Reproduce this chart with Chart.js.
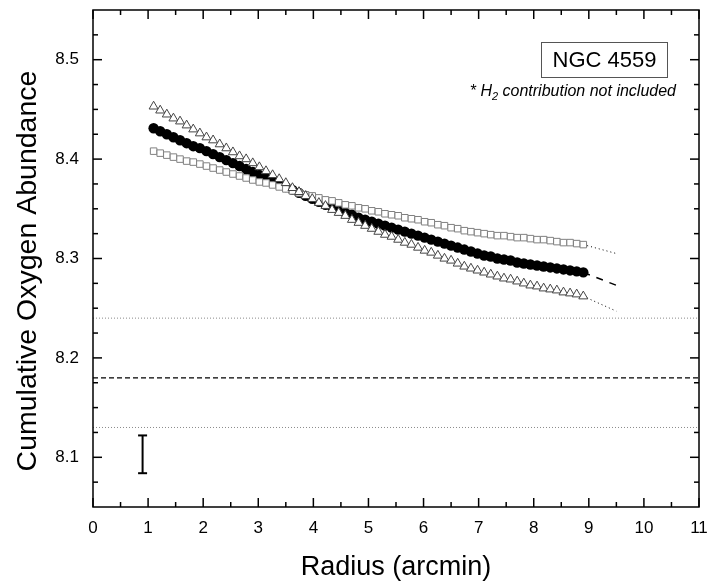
<!DOCTYPE html>
<html>
<head>
<meta charset="utf-8">
<script src="https://cdn.jsdelivr.net/npm/chart.js@4.4.1/dist/chart.umd.min.js"></script>
<style>
  html, body { margin: 0; padding: 0; background: #fff; }
  #chart { display: block; }
</style>
</head>
<body>
<canvas id="chart" width="712" height="588"></canvas>
<script>
// ---------- Data ----------
const radius = [
  1.10, 1.22, 1.34, 1.46, 1.58, 1.70, 1.82, 1.94, 2.06, 2.18,
  2.30, 2.42, 2.54, 2.66, 2.78, 2.90, 3.02, 3.14, 3.26, 3.38,
  3.50, 3.62, 3.74, 3.86, 3.98, 4.10, 4.22, 4.34, 4.46, 4.58,
  4.70, 4.82, 4.94, 5.06, 5.18, 5.30, 5.42, 5.54, 5.66, 5.78,
  5.90, 6.02, 6.14, 6.26, 6.38, 6.50, 6.62, 6.74, 6.86, 6.98,
  7.10, 7.22, 7.34, 7.46, 7.58, 7.70, 7.82, 7.94, 8.06, 8.18,
  8.30, 8.42, 8.54, 8.66, 8.78, 8.90
];
const oxyCircle = [
  8.431, 8.428, 8.425, 8.422, 8.419, 8.416, 8.413, 8.411, 8.408, 8.405,
  8.402, 8.399, 8.396, 8.393, 8.390, 8.387, 8.384, 8.381, 8.378, 8.375,
  8.372, 8.369, 8.366, 8.363, 8.360, 8.357, 8.354, 8.352, 8.349, 8.346,
  8.344, 8.341, 8.339, 8.337, 8.335, 8.333, 8.331, 8.329, 8.327, 8.325,
  8.323, 8.321, 8.319, 8.317, 8.315, 8.313, 8.311, 8.309, 8.307, 8.305,
  8.303, 8.302, 8.300, 8.299, 8.298, 8.296, 8.295, 8.294, 8.293, 8.292,
  8.291, 8.290, 8.289, 8.288, 8.287, 8.286
];
const oxyTriangle = [
  8.453, 8.449, 8.445, 8.441, 8.438, 8.434, 8.430, 8.426, 8.422, 8.419,
  8.415, 8.411, 8.407, 8.403, 8.400, 8.396, 8.392, 8.388, 8.384, 8.380,
  8.376, 8.371, 8.367, 8.363, 8.360, 8.356, 8.353, 8.349, 8.346, 8.343,
  8.339, 8.336, 8.333, 8.330, 8.327, 8.324, 8.322, 8.319, 8.316, 8.314,
  8.311, 8.308, 8.306, 8.303, 8.300, 8.298, 8.295, 8.292, 8.290, 8.288,
  8.286, 8.284, 8.282, 8.280, 8.279, 8.277, 8.275, 8.273, 8.272, 8.270,
  8.269, 8.268, 8.266, 8.265, 8.264, 8.262
];
const oxySquare = [
  8.408, 8.406, 8.404, 8.402, 8.400, 8.398, 8.397, 8.395, 8.393, 8.391,
  8.389, 8.387, 8.385, 8.383, 8.381, 8.379, 8.377, 8.376, 8.374, 8.372,
  8.370, 8.368, 8.366, 8.364, 8.363, 8.361, 8.359, 8.358, 8.356, 8.354,
  8.353, 8.351, 8.350, 8.348, 8.347, 8.345, 8.344, 8.343, 8.341, 8.340,
  8.339, 8.337, 8.336, 8.334, 8.333, 8.331, 8.330, 8.328, 8.327, 8.326,
  8.325, 8.324, 8.323, 8.323, 8.322, 8.321, 8.321, 8.320, 8.319, 8.319,
  8.318, 8.317, 8.316, 8.316, 8.315, 8.314
];

// extrapolations past the last point
const extRadius = [8.90, 9.50];
const extCircle = [8.286, 8.273];
const extTriangle = [8.262, 8.247];
const extSquare = [8.314, 8.305];

// horizontal reference levels
const levelRange = [0, 11];
const levelUpper = 8.24;
const levelMid = 8.18;
const levelLower = 8.13;

// typical error bar
const errRadius = 0.9;
const errLow = 8.084;
const errHigh = 8.122;

// ticks
const xTicks = [0, 1, 2, 3, 4, 5, 6, 7, 8, 9, 10, 11];
const xMinor = [0.5, 1.5, 2.5, 3.5, 4.5, 5.5, 6.5, 7.5, 8.5, 9.5, 10.5];
const yTicks = [8.1, 8.2, 8.3, 8.4, 8.5];
const yMinor = [8.075, 8.125, 8.15, 8.175, 8.225, 8.25, 8.275, 8.325, 8.35, 8.375,
                8.425, 8.45, 8.475, 8.525];

const FONT = "'Liberation Sans', Arial, sans-serif";

const pts = (xs, ys) => xs.map((x, i) => ({ x: x, y: ys[i] }));
const hline = v => levelRange.map(x => ({ x: x, y: v }));

// ---------- Frame, inward ticks, labels ----------
const framePlugin = {
  id: "frame",
  afterDatasetsDraw(chart) {
    const { ctx, chartArea: a, scales: { x, y } } = chart;
    ctx.save();
    ctx.strokeStyle = "#000";
    ctx.lineWidth = 1.5;
    ctx.strokeRect(a.left, a.top, a.right - a.left, a.bottom - a.top);

    const seg = (x1, y1, x2, y2) => {
      ctx.beginPath(); ctx.moveTo(x1, y1); ctx.lineTo(x2, y2); ctx.stroke();
    };
    const xTick = (v, len) => {
      const p = x.getPixelForValue(v);
      seg(p, a.bottom, p, a.bottom - len);
      seg(p, a.top, p, a.top + len);
    };
    const yTick = (v, len) => {
      const p = y.getPixelForValue(v);
      seg(a.left, p, a.left + len, p);
      seg(a.right, p, a.right - len, p);
    };
    xTicks.forEach(v => xTick(v, 9));
    xMinor.forEach(v => xTick(v, 5));
    yTicks.forEach(v => yTick(v, 9));
    yMinor.forEach(v => yTick(v, 5));

    // y axis title (placed by hand, a bit below the plot centre)
    ctx.save();
    ctx.translate(28, 271);
    ctx.rotate(-Math.PI / 2);
    ctx.fillStyle = "#000";
    ctx.font = "28.5px " + FONT;
    ctx.textAlign = "center";
    ctx.textBaseline = "middle";
    ctx.fillText("Cumulative Oxygen Abundance", 0, 0);
    ctx.restore();

    // label box
    ctx.lineWidth = 1;
    ctx.strokeStyle = "#555";
    ctx.strokeRect(541.5, 42.5, 126, 35);
    ctx.fillStyle = "#000";
    ctx.font = "22px " + FONT;
    ctx.textAlign = "center";
    ctx.textBaseline = "middle";
    ctx.fillText("NGC 4559", 604.5, 60.5);

    // note, right aligned with subscript
    const right = 676, base = 96;
    const mainFont = "italic 16px " + FONT;
    const subFont = "italic 11px " + FONT;
    ctx.textBaseline = "alphabetic";
    ctx.textAlign = "left";
    ctx.font = mainFont;
    const tail = " contribution not included";
    const head = "* H";
    const wTail = ctx.measureText(tail).width;
    const wHead = ctx.measureText(head).width;
    ctx.font = subFont;
    const wSub = ctx.measureText("2").width;
    let px = right - wTail - wSub - wHead;
    ctx.font = mainFont;
    ctx.fillText(head, px, base);
    px += wHead;
    ctx.font = subFont;
    ctx.fillText("2", px, base + 4);
    px += wSub;
    ctx.font = mainFont;
    ctx.fillText(tail, px, base);
    ctx.restore();
  }
};

// ---------- Chart ----------
const ctx = document.getElementById("chart").getContext("2d");

new Chart(ctx, {
  type: "scatter",
  data: {
    datasets: [
      {
        label: "upper level",
        data: hline(levelUpper),
        showLine: true,
        borderColor: "#8a8a8a",
        borderWidth: 1,
        borderDash: [1, 2],
        pointRadius: 0,
        order: 10,
      },
      {
        label: "mean level",
        data: hline(levelMid),
        showLine: true,
        borderColor: "#000",
        borderWidth: 1.2,
        borderDash: [5, 3],
        pointRadius: 0,
        order: 10,
      },
      {
        label: "lower level",
        data: hline(levelLower),
        showLine: true,
        borderColor: "#8a8a8a",
        borderWidth: 1,
        borderDash: [1, 2],
        pointRadius: 0,
        order: 10,
      },
      {
        label: "error",
        data: [{ x: errRadius, y: errLow }, { x: errRadius, y: errHigh }],
        showLine: true,
        borderColor: "#000",
        borderWidth: 2,
        pointStyle: "line",
        pointRadius: 4.5,
        pointBorderWidth: 2,
        pointBorderColor: "#000",
        order: 10,
      },
      {
        label: "circle ext",
        data: pts(extRadius, extCircle),
        showLine: true,
        borderColor: "#000",
        borderWidth: 1.5,
        borderDash: [7, 7],
        pointRadius: 0,
        order: 9,
      },
      {
        label: "triangle ext",
        data: pts(extRadius, extTriangle),
        showLine: true,
        borderColor: "#000",
        borderWidth: 1,
        borderDash: [1, 3],
        pointRadius: 0,
        order: 9,
      },
      {
        label: "square ext",
        data: pts(extRadius, extSquare),
        showLine: true,
        borderColor: "#000",
        borderWidth: 1,
        borderDash: [1, 3],
        pointRadius: 0,
        order: 9,
      },
      {
        label: "circles",
        data: pts(radius, oxyCircle),
        pointStyle: "circle",
        pointRadius: 5.2,
        backgroundColor: "#000",
        borderColor: "#000",
        borderWidth: 0,
        order: 3,
      },
      {
        label: "squares",
        data: pts(radius, oxySquare),
        pointStyle: "rect",
        pointRadius: 4.6,
        backgroundColor: "#fff",
        borderColor: "#808080",
        borderWidth: 1,
        order: 2,
      },
      {
        label: "triangles",
        data: pts(radius, oxyTriangle),
        pointStyle: "triangle",
        pointRadius: 5.2,
        backgroundColor: "#fff",
        borderColor: "#444",
        borderWidth: 1,
        order: 1,
      },
    ],
  },
  options: {
    responsive: false,
    animation: false,
    devicePixelRatio: 1,
    layout: { padding: { top: 10, right: 13, left: 0, bottom: 0 } },
    plugins: {
      legend: { display: false },
      tooltip: { enabled: false },
    },
    scales: {
      x: {
        type: "linear",
        min: 0,
        max: 11,
        afterBuildTicks: s => { s.ticks = xTicks.map(v => ({ value: v })); },
        afterFit: s => {
          s.height = 81;
          s.paddingLeft = 0;
          s.paddingRight = 0;
        },
        grid: { display: false, drawTicks: false },
        border: { display: false },
        ticks: {
          color: "#000",
          font: { family: FONT, size: 17 },
          padding: 11,
          maxRotation: 0,
          callback: v => String(v),
        },
        title: {
          display: true,
          text: "Radius (arcmin)",
          color: "#000",
          font: { family: FONT, size: 27 },
          padding: { top: 0, bottom: 4 },
        },
      },
      y: {
        type: "linear",
        min: 8.05,
        max: 8.55,
        afterBuildTicks: s => { s.ticks = yTicks.map(v => ({ value: v })); },
        afterFit: s => {
          s.width = 93;
          s.paddingTop = 0;
          s.paddingBottom = 0;
        },
        grid: { display: false, drawTicks: false },
        border: { display: false },
        ticks: {
          color: "#000",
          font: { family: FONT, size: 17 },
          padding: 14,
          callback: v => Number(v).toFixed(1),
        },
        title: { display: false },
      },
    },
  },
  plugins: [framePlugin],
});
</script>
</body>
</html>
